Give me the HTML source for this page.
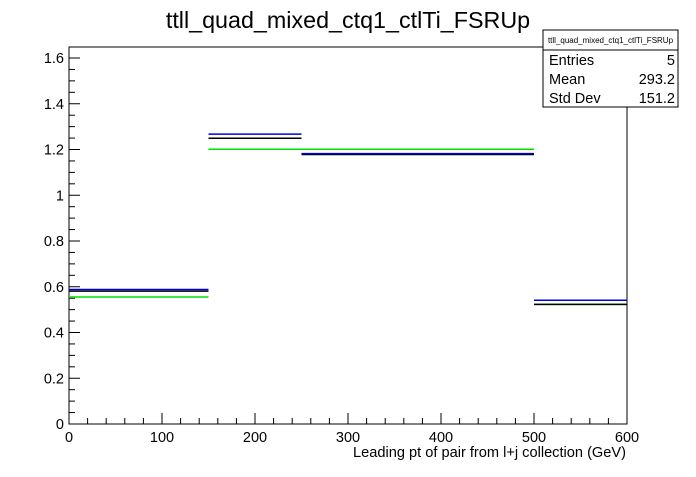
<!DOCTYPE html>
<html><head><meta charset="utf-8"><style>
body{margin:0;background:#fff;width:696px;height:472px;overflow:hidden}
svg text{font-family:"Liberation Sans",Arial,sans-serif}
</style></head><body>
<svg id="chart" width="696" height="472" viewBox="0 0 696 472" xmlns="http://www.w3.org/2000/svg">
<rect width="696" height="472" fill="#fff"/>
<text x="348" y="28" font-size="23.3" text-anchor="middle">ttll_quad_mixed_ctq1_ctlTi_FSRUp</text>
<rect x="69" y="47" width="558" height="377" fill="none" stroke="#000" stroke-width="1"/>
<g id="axes"></g>
<g id="series"></g>
<text x="626" y="457" font-size="14.6" text-anchor="end">Leading pt of pair from l+j collection (GeV)</text>
<g>
<rect x="543" y="30" width="135" height="77" fill="#fff" stroke="#000"/>
<line x1="543" y1="50" x2="678" y2="50" stroke="#000"/>
<text x="610.5" y="43" font-size="8" text-anchor="middle">ttll_quad_mixed_ctq1_ctlTi_FSRUp</text>
<text x="549" y="65" font-size="14.5">Entries</text><text x="675" y="65" font-size="14.5" text-anchor="end">5</text>
<text x="549" y="84" font-size="14.5">Mean</text><text x="675" y="84" font-size="14.5" text-anchor="end">293.2</text>
<text x="549" y="103" font-size="14.5">Std Dev</text><text x="675" y="103" font-size="14.5" text-anchor="end">151.2</text>
</g>
</svg>
<script>
const binEdges=[0,150,250,500,600];
const greenValues=[0.555,1.201,1.201,0.523];
const blackValues=[0.581,1.249,1.178,0.523];
const blueValues=[0.588,1.267,1.182,0.541];
const xTickLabels=[0,100,200,300,400,500,600];
const yTickLabels=[0,0.2,0.4,0.6,0.8,1,1.2,1.4,1.6];

const X0=69,X1=627,Y0=424,YT=58;
const xs=v=>X0+(v-0)/600*(X1-X0);
const ys=v=>Y0-v/1.6*(Y0-YT);
const NS="http://www.w3.org/2000/svg";
const axes=document.getElementById('axes'),series=document.getElementById('series');
function ln(p,x1,y1,x2,y2,c,w){const l=document.createElementNS(NS,'line');l.setAttribute('x1',x1);l.setAttribute('y1',y1);l.setAttribute('x2',x2);l.setAttribute('y2',y2);l.setAttribute('stroke',c);l.setAttribute('stroke-width',w);p.appendChild(l);return l;}
function tx(p,x,y,s,a){const t=document.createElementNS(NS,'text');t.setAttribute('x',x);t.setAttribute('y',y);t.setAttribute('font-size',14.5);t.setAttribute('text-anchor',a);t.textContent=s;p.appendChild(t);return t;}
for(let v=0;v<=600;v+=20){const big=v%100===0;const l=ln(axes,xs(v),Y0,xs(v),Y0-(big?11:6),'#000',1);

}
xTickLabels.forEach(v=>{const t=tx(axes,xs(v),442,String(v),'middle');

});
for(let i=0;i<=32;i++){const v=i*0.05;const big=i%4===0;const l=ln(axes,X0,ys(v),X0+(big?11:6),ys(v),'#000',1);

}
yTickLabels.forEach(v=>{const t=tx(axes,64,ys(v)+5,String(v),'end');

});
function draw(vals,color,name){vals.forEach((v,i)=>{const l=ln(series,xs(binEdges[i]),ys(v),xs(binEdges[i+1]),ys(v),color,1.5);

});}
draw(greenValues,'#00e000','green-series');
draw(blackValues,'#000','black-series');
draw(blueValues,'#0000dd','blue-series');
</script>
</body></html>
